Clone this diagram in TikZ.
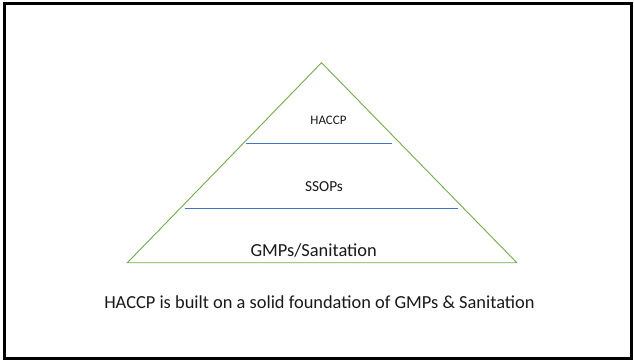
\documentclass[tikz,border=0pt]{standalone}
\usepackage{fontspec}
\setmainfont{Carlito}
\usepackage{xcolor}
\usetikzlibrary{positioning}
\definecolor{layergreen}{HTML}{70AD47}
\definecolor{layerblue}{HTML}{4472C4}
\tikzset{layer/.style={anchor=base, inner sep=0pt, text=black!90}}

\begin{document}
\begin{tikzpicture}[x=1pt, y=-1pt, side/.style={draw=layergreen, line width=0.9pt},
		cut/.style={draw=layerblue, line width=1.1pt}]

				\useasboundingbox (0,0) rectangle (634,360);
				\draw[line width=3pt] (4.5,3.5) rectangle (631.5,358.5);

				% the pyramid
				\coordinate (apex) at (321.5,62.7);
				\coordinate (baseL) at (127.4,262.7);
				\coordinate (baseR) at (516.8,262.7);
				\draw[side] (apex) -- (baseL) -- (baseR) -- cycle;

				\coordinate (topL) at (246,143.7);
				\coordinate (topR) at (392.3,143.7);
				\coordinate (midL) at (185.2,208.3);
				\coordinate (midR) at (458.2,208.3);
				\draw[cut] (topL) -- (topR);
				\draw[cut] (midL) -- (midR);

				\node[layer, font=\fontsize{13}{15}\selectfont] (haccp) at (328.5,124) {HACCP};
				\node[layer, font=\fontsize{15.3}{18}\selectfont] (ssop) at (324,191.7) {SSOPs};
				\node[layer, font=\fontsize{18.4}{22}\selectfont] (gmp) at (313.7,256.5) {GMPs/Sanitation};
				\node[layer, font=\fontsize{18.4}{22}\selectfont] (note) at (319.5,308.5)
					{HACCP is built on a solid foundation of GMPs \& Sanitation};
			\end{tikzpicture}
\end{document}
